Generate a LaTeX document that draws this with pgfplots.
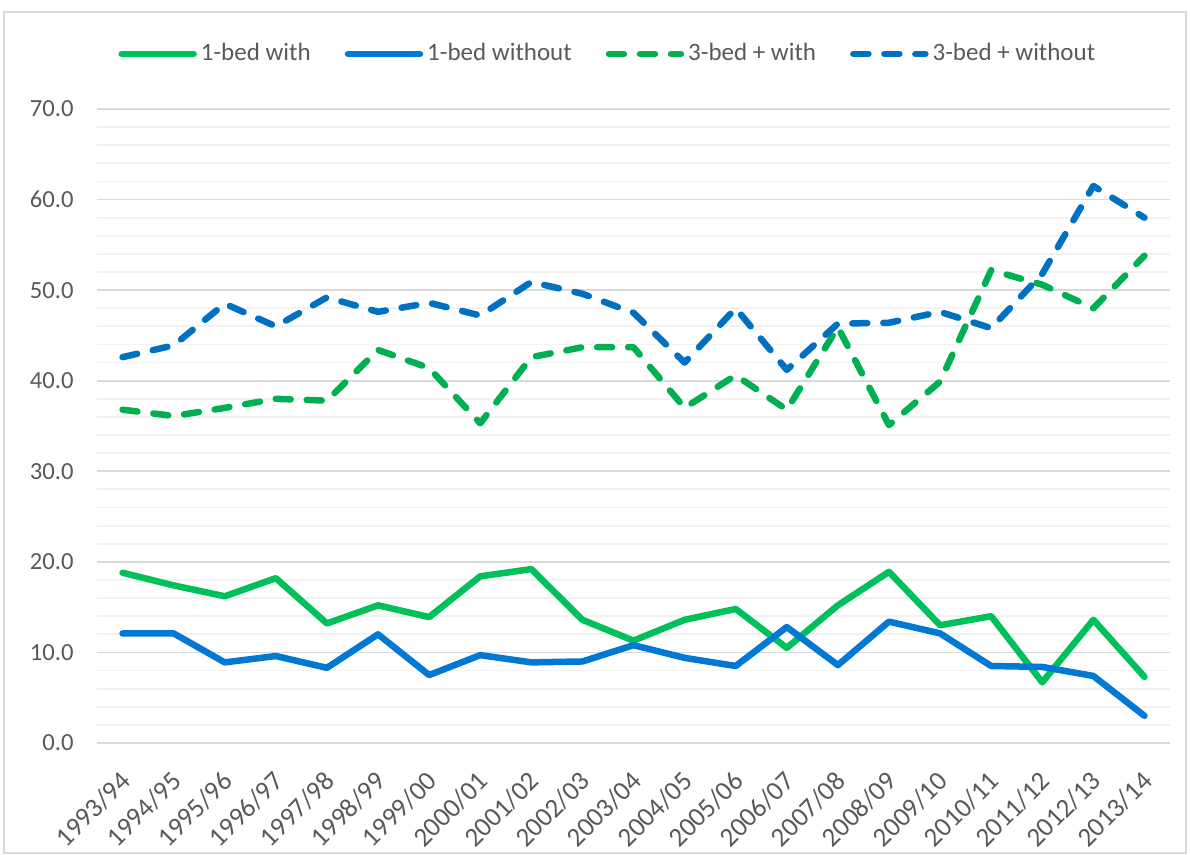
\documentclass[border=0pt]{standalone}
\usepackage{fontspec}
\setmainfont{Carlito}
\usepackage{pgfplots}
\pgfplotsset{compat=1.18}
\definecolor{txt}{HTML}{595959}
\definecolor{gmaj}{HTML}{D9D9D9}
\definecolor{gmin}{HTML}{F2F2F2}
\definecolor{g1}{RGB}{0,192,90}
\definecolor{b1}{RGB}{0,120,212}
\definecolor{g3}{RGB}{0,176,80}
\definecolor{b3}{RGB}{0,112,192}
\begin{document}
\fontsize{12}{14}\selectfont
\begin{tikzpicture}
\useasboundingbox (0,0) rectangle (595pt,427.5pt);
\draw[gmaj, line width=0.75pt] (2pt,1pt) rectangle (593pt,421.5pt);
\begin{axis}[
  at={(48.5pt,56pt)}, anchor=south west,
  width=536.5pt, height=317pt, scale only axis,
  xmin=-0.5, xmax=20.5, ymin=0, ymax=70,
  axis line style={draw=none}, tick style={draw=none},
  ytick={0,10,...,70}, minor y tick num=4,
  ymajorgrids, yminorgrids,
  major grid style={gmaj, line width=0.9pt},
  minor grid style={gmin, line width=0.9pt},
  /pgf/number format/assume math mode=true,
  yticklabel style={font=\fontsize{12.3}{14}\selectfont, text=txt, xshift=-7.5pt,
    /pgf/number format/fixed, /pgf/number format/fixed zerofill, /pgf/number format/precision=1},
  xtick={0,...,20},
  xticklabels={1993/94,1994/95,1995/96,1996/97,1997/98,1998/99,1999/00,2000/01,2001/02,2002/03,2003/04,2004/05,2005/06,2006/07,2007/08,2008/09,2009/10,2010/11,2011/12,2012/13,2013/14},
  xticklabel style={font=\fontsize{13.5}{15}\selectfont, text=txt, anchor=north east, inner sep=0pt, xshift=-2pt, yshift=-13pt, rotate=45},
  legend style={at={(0.477,1.0868)}, anchor=center, draw=none, fill=none,
    font=\fontsize{12.5}{14}\selectfont, text=txt,
    /tikz/every even column/.append style={column sep=15pt}},
  legend columns=4,
  legend cell align=left,
  legend image code/.code={\draw[#1] (0pt,0pt) -- (36pt,0pt);},
  every axis plot/.append style={line width=3.25pt, line cap=round, line join=round},
]
\addplot[g1] coordinates {(0,18.8)(1,17.4)(2,16.2)(3,18.2)(4,13.2)(5,15.2)(6,13.9)(7,18.4)(8,19.2)(9,13.6)(10,11.3)(11,13.6)(12,14.8)(13,10.5)(14,15.2)(15,18.9)(16,13.0)(17,14.0)(18,6.7)(19,13.6)(20,7.3)};
\addlegendentry{1-bed with}
\addplot[b1] coordinates {(0,12.1)(1,12.1)(2,8.9)(3,9.6)(4,8.3)(5,12.0)(6,7.5)(7,9.7)(8,8.9)(9,9.0)(10,10.8)(11,9.4)(12,8.5)(13,12.8)(14,8.6)(15,13.4)(16,12.1)(17,8.5)(18,8.4)(19,7.4)(20,3.0)};
\addlegendentry{1-bed without}
\addplot[g3, dash pattern=on 7.5pt off 8pt] coordinates {(0,36.8)(1,36.1)(2,37.0)(3,38.0)(4,37.8)(5,43.4)(6,41.4)(7,35.3)(8,42.6)(9,43.7)(10,43.7)(11,37.0)(12,40.6)(13,36.8)(14,45.9)(15,35.1)(16,39.9)(17,52.2)(18,50.6)(19,48.0)(20,53.8)};
\addlegendentry{3-bed + with}
\addplot[b3, dash pattern=on 7.5pt off 8pt] coordinates {(0,42.6)(1,43.9)(2,48.5)(3,46.0)(4,49.2)(5,47.6)(6,48.6)(7,47.2)(8,50.9)(9,49.6)(10,47.5)(11,42.0)(12,48.0)(13,41.2)(14,46.3)(15,46.4)(16,47.6)(17,45.8)(18,51.8)(19,61.5)(20,58.0)};
\addlegendentry{3-bed + without}
\end{axis}
\end{tikzpicture}
\end{document}
